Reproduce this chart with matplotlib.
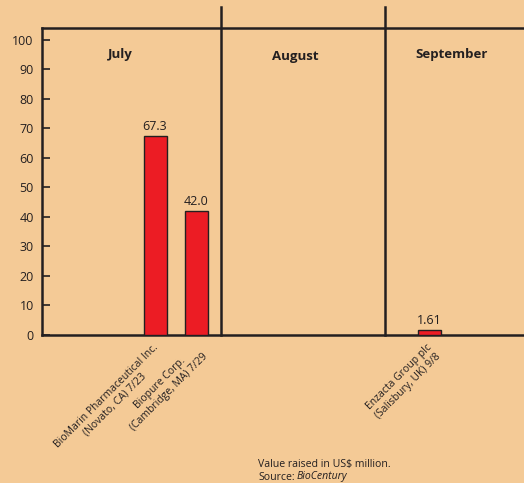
import matplotlib
matplotlib.use("Agg")
import matplotlib.pyplot as plt

months = ["July", "August", "September"]
companies = ["BioMarin Pharmaceutical Inc.\n(Novato, CA) 7/23",
             "Biopure Corp.\n(Cambridge, MA) 7/29",
             "Enzacta Group plc\n(Salisbury, UK) 9/8"]
values = [67.3, 42.0, 1.61]
value_labels = ["67.3", "42.0", "1.61"]
yticks = [0, 10, 20, 30, 40, 50, 60, 70, 80, 90, 100]

bg = "#F4CA96"
red = "#EC1C24"
dark = "#231F20"

plt.rcParams['font.family'] = ['Open Sans', 'DejaVu Sans']

fig = plt.figure(figsize=(5.24, 4.83), dpi=100, facecolor=bg)
ax = fig.add_axes([42/524, 148/483, 482/524, 307/483])
ax.set_facecolor(bg)

# x positions in axis units (0..482)
bar_x = [113, 154, 387]
dividers = [179, 343]
month_x = [78, 253, 410]
month_y = [94.9, 94.2, 94.9]

ax.bar(bar_x, values, width=23, color=red, edgecolor=dark, linewidth=1.0, zorder=3)
for x, v, t in zip(bar_x, values, value_labels):
    ax.text(x, v + 1.0, t, ha='center', va='bottom', fontsize=9, color=dark)

ax.set_xlim(0, 482)
ax.set_ylim(0, 104)

for d in dividers:
    ax.plot([d, d], [0, 111], color=dark, lw=1.8, clip_on=False, zorder=4)

for m, x, y in zip(months, month_x, month_y):
    ax.text(x, y, m, ha='center', va='center', fontsize=9.5, fontweight='bold', color=dark)

for sp in ['right']:
    ax.spines[sp].set_visible(False)
for sp in ['left', 'top', 'bottom']:
    ax.spines[sp].set_color(dark)
    ax.spines[sp].set_linewidth(1.8)

ax.set_yticks(yticks)
ax.set_yticklabels([str(t) for t in yticks], fontsize=9, color=dark)
ax.tick_params(axis='y', direction='in', length=6, width=1.2, color=dark, pad=6)
ax.set_xticks([])

for x, c in zip(bar_x, companies):
    ax.annotate(c, xy=(x, 0), xytext=(-2, -5), textcoords='offset points',
                rotation=45, ha='right', va='top', fontsize=7.5, color=dark,
                multialignment='center', rotation_mode='anchor')

fig.text(258/524, 1 - 465/483, "Value raised in US$ million.", fontsize=7.6,
         color=dark, ha='left', va='center')
fig.text(258/524, 1 - 477/483, "Source:", fontsize=7.6, color=dark, ha='left', va='center')
fig.text(297/524, 1 - 477/483, "BioCentury", fontsize=7.6, color=dark, ha='left',
         va='center', style='italic')

fig.savefig("out.png", dpi=100, facecolor=bg)
